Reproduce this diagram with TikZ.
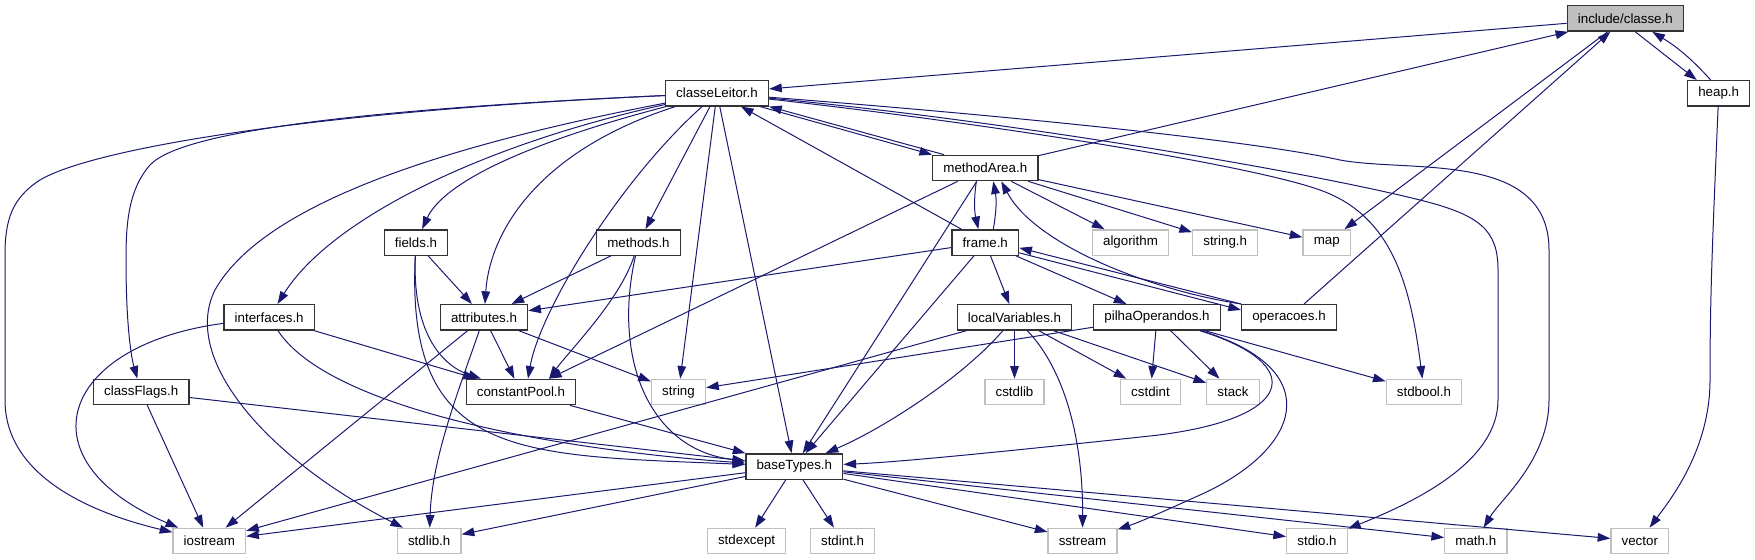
\documentclass[tikz,border=0pt]{standalone}
\usepackage{fontspec}
\setmainfont{Liberation Sans}
\usetikzlibrary{arrows.meta}

\definecolor{edgeblue}{HTML}{191970}
\definecolor{extgray}{HTML}{BFBFBF}

\begin{document}
\begin{tikzpicture}[x=0.75pt,y=-0.75pt,font=\fontsize{10}{12}\selectfont,
  hdr/.style={draw=black!80,line width=1pt,fill=white,inner xsep=8pt,inner ysep=0pt,minimum height=19pt},
  sys/.style={hdr,draw=extgray},
  dep/.style={draw=edgeblue,line width=0.75pt,-{Triangle[length=9.5pt,width=6.5pt]}}]
  \useasboundingbox (0,0) rectangle (1755,560);

  \node[hdr,fill=extgray] (classe) at (1625.3,18.5) {include/classe.h};
  \foreach \nm/\x/\y/\lab in {leitor/717/93.2/classeLeitor.h, heap/1718.7/93.3/heap.h,
      marea/985.3/168/methodArea.h, fields/416/242.5/fields.h, methods/638.5/242.5/methods.h,
      frame/985.3/242.5/frame.h, ifaces/269.2/317.3/interfaces.h, attrs/484/317.3/attributes.h,
      locvars/1014.5/317.3/localVariables.h, pilha/1157/317.3/pilhaOperandos.h,
      operacoes/1289/317.3/operacoes.h, flags/141.2/392/classFlags.h,
      cpool/521/392/constantPool.h, basetypes/794.3/466.5/baseTypes.h}
    \node[hdr] (\nm) at (\x,\y) {\lab};
  \foreach \nm/\x/\y/\lab in {algorithm/1130.5/242.5/algorithm, stringh/1225.2/242.5/string.h,
      map/1326.7/242.5/map, string/678.5/392/string, cstdlib/1014.5/392/cstdlib,
      cstdint/1150.5/392/cstdint, stack/1233/392/stack, stdbool/1424/392/stdbool.h,
      iostream/209.3/541/iostream, stdlib/429.2/541/stdlib.h, stdexcept/746.6/541/stdexcept,
      stdint/842.6/541/stdint.h, sstream/1082.5/541/sstream, stdio/1317/541/stdio.h,
      mathh/1475.8/541/math.h, vector/1639.8/541/vector}
    \node[sys] (\nm) at (\x,\y) {\lab};

  \foreach \a/\b in {classe/leitor, classe/map, marea/classe, operacoes/classe,
      leitor/methods, leitor/string, leitor/basetypes, frame/leitor,
      marea/basetypes, marea/algorithm, marea/stringh, marea/map,
      frame/locvars, frame/pilha, frame/basetypes, frame/attrs,
      fields/attrs, methods/attrs, ifaces/cpool, attrs/cpool, attrs/iostream, attrs/string,
      flags/iostream, flags/basetypes, cpool/basetypes,
      locvars/iostream, locvars/cstdlib, locvars/cstdint, locvars/stack,
      pilha/string, pilha/cstdint, pilha/stack, pilha/stdbool,
      basetypes/iostream, basetypes/stdlib, basetypes/stdexcept, basetypes/stdint,
      basetypes/sstream, basetypes/stdio, basetypes/mathh, basetypes/vector}
    \draw[dep] (\a) -- (\b);

  \draw[dep] ([shift={(10,0)}]classe.south) -- ([shift={(-22,0)}]heap.north);
  \draw[dep] ([shift={(-8,0)}]heap.north) to[bend right=8] ([shift={(27,0)}]classe.south);
  \draw[dep] (heap) .. controls (1712,250) and (1710,300) .. (1710,380)
    .. controls (1710,450) and (1670,500) .. (vector);
  \draw[dep] ([shift={(43,0)}]leitor.south) -- (marea.north west);
  \draw[dep] ([shift={(12,0)}]marea.north west) -- (leitor.south east);
  \draw[dep] ([shift={(-9,0)}]marea.south) to[bend right=10] ([shift={(-7,0)}]frame.north);
  \draw[dep] ([shift={(8,0)}]frame.north) to[bend right=10] ([shift={(8,0)}]marea.south);
  \draw[dep] ([shift={(0,-3)}]frame.south east) -- ([shift={(0,6)}]operacoes.north west);
  \draw[dep] (operacoes.north west) -- ([shift={(0,-8)}]frame.south east);
  \draw[dep] (operacoes.north west) .. controls (1150,290) and (1035,245) .. ([shift={(16,0)}]marea.south);
  \draw[dep] (marea) -- ([shift={(28,0)}]cpool.north);

  \draw[dep] (leitor) .. controls (300,112) and (90,150) .. (40,180)
    .. controls (12,198) and (5,220) .. (5,255) -- (5,400)
    .. controls (5,480) and (100,515) .. (iostream);
  \draw[dep] (leitor) .. controls (300,112) and (175,138) .. (150,165)
    .. controls (128,190) and (126,225) .. (126,260)
    .. controls (126,330) and (132,360) .. (flags);
  \draw[dep] (leitor) .. controls (420,150) and (260,210) .. (215,290)
    .. controls (180,360) and (270,460) .. (stdlib);
  \draw[dep] (leitor) .. controls (480,145) and (330,220) .. (ifaces);
  \draw[dep] (leitor) .. controls (500,150) and (440,190) .. (fields);
  \draw[dep] (leitor) .. controls (540,150) and (490,230) .. (attrs);
  \draw[dep] (leitor) .. controls (620,180) and (540,310) .. ([shift={(7,0)}]cpool.north);
  \draw[dep] (leitor) .. controls (1000,115) and (1250,140) .. (1340,160)
    .. controls (1410,173) and (1549,150) .. (1549,250) -- (1549,400)
    .. controls (1549,460) and (1500,500) .. (mathh);
  \draw[dep] (leitor) .. controls (1000,120) and (1300,170) .. (1420,200)
    .. controls (1480,215) and (1498,230) .. (1498,270) -- (1498,400)
    .. controls (1498,460) and (1420,500) .. (stdio);
  \draw[dep] (leitor) .. controls (1000,125) and (1250,165) .. (1320,190)
    .. controls (1390,215) and (1410,280) .. (stdbool);

  \draw[dep] (fields) .. controls (412,330) and (440,365) .. (cpool);
  \draw[dep] (fields) .. controls (405,460) and (520,455) .. (basetypes);
  \draw[dep] (methods) .. controls (620,300) and (570,350) .. ([shift={(28,0)}]cpool.north);
  \draw[dep] (methods) .. controls (612,360) and (650,450) .. (basetypes);
  \draw[dep] (ifaces) .. controls (60,345) and (20,460) .. (iostream);
  \draw[dep] (ifaces) .. controls (330,410) and (560,450) .. (basetypes);
  \draw[dep] (attrs) .. controls (455,400) and (432,460) .. (stdlib);
  \draw[dep] (locvars) .. controls (960,380) and (880,430) .. (basetypes);
  \draw[dep] (locvars) .. controls (1065,370) and (1083,440) .. (sstream);
  \draw[dep] (pilha) .. controls (1310,365) and (1295,420) .. (1150,436)
    .. controls (1000,452) and (900,462) .. (basetypes);
  \draw[dep] (pilha) .. controls (1330,370) and (1300,450) .. (1200,495)
    .. controls (1160,513) and (1140,522) .. (sstream);
\end{tikzpicture}
\end{document}
